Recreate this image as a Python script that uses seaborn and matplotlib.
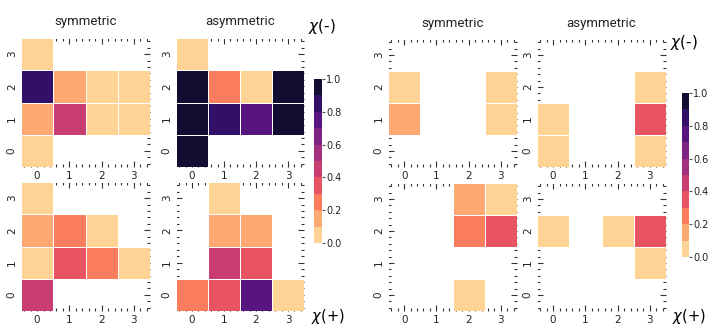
import numpy as np
import pandas as pd
import matplotlib
matplotlib.use("Agg")
import matplotlib.pyplot as plt
from matplotlib.ticker import AutoMinorLocator, FixedLocator, FormatStrFormatter
import seaborn as sns

nan = np.nan
idx = [0, 1, 2, 3]           # tick labels (x and y)
col_titles = ["symmetric", "asymmetric"]
row_labels = [r"$\chi$(-)", r"$\chi(+)$"]
cbar_ticks = [0.0, 0.2, 0.4, 0.6, 0.8, 1.0]

# rows listed y=0 (bottom) .. y=3 (top); columns x=0..3
left_sym_minus = [[0.05, nan, nan, nan],
                  [0.15, 0.45, 0.05, 0.05],
                  [0.85, 0.15, 0.05, 0.05],
                  [0.05, nan, nan, nan]]
left_asym_minus = [[0.98, nan, nan, nan],
                   [0.98, 0.85, 0.75, 0.98],
                   [0.98, 0.25, 0.05, 0.98],
                   [0.05, nan, nan, nan]]
left_sym_plus = [[0.45, nan, nan, nan],
                 [0.05, 0.35, 0.25, 0.05],
                 [0.15, 0.25, 0.05, nan],
                 [0.05, nan, nan, nan]]
left_asym_plus = [[0.25, 0.35, 0.75, 0.05],
                  [nan, 0.45, 0.35, nan],
                  [nan, 0.15, 0.15, nan],
                  [nan, 0.05, nan, nan]]

right_sym_minus = [[nan, nan, nan, nan],
                   [0.15, nan, nan, 0.05],
                   [0.05, nan, nan, 0.05],
                   [nan, nan, nan, nan]]
right_asym_minus = [[0.05, nan, nan, 0.05],
                    [0.05, nan, nan, 0.35],
                    [nan, nan, nan, 0.05],
                    [nan, nan, nan, nan]]
right_sym_plus = [[nan, nan, 0.05, nan],
                  [nan, nan, nan, nan],
                  [nan, nan, 0.25, 0.35],
                  [nan, nan, 0.15, 0.05]]
right_asym_plus = [[nan, nan, nan, nan],
                   [nan, nan, nan, 0.05],
                   [0.05, nan, 0.05, 0.35],
                   [nan, nan, nan, nan]]

plt.rcParams["axes.axisbelow"] = True
plt.rcParams["font.family"] = ["DejaVu Sans"]

W, H = 709, 325
fig = plt.figure(figsize=(W / 100, H / 100), dpi=100)


def box(x0, y0, x1, y1):
    return fig.add_axes([x0 / W, 1 - y1 / H, (x1 - x0) / W, (y1 - y0) / H])


pal = sns.color_palette("magma_r", 10)


def draw(ax, mat, cax=None):
    df = pd.DataFrame(np.array(mat, dtype=float), index=idx, columns=idx)
    sns.heatmap(df, ax=ax, cmap=pal, vmin=0, vmax=1, linewidths=0.4,
                linecolor="white", cbar=cax is not None, cbar_ax=cax,
                xticklabels=idx, yticklabels=idx)
    ax.invert_yaxis()
    ax.set_xlabel("")
    ax.set_ylabel("")
    ax.xaxis.set_minor_locator(AutoMinorLocator(5))
    ax.yaxis.set_minor_locator(AutoMinorLocator(5))
    ax.tick_params(which="both", direction="in", top=True, right=True,
                   bottom=True, left=True, color="#333333", width=0.8)
    ax.tick_params(which="major", length=4, labelsize=7.5, pad=3,
                   labelcolor="#222222")
    ax.tick_params(which="minor", length=2.2)
    for t in ax.get_yticklabels():
        t.set_rotation(90)
        t.set_va("center")
    for t in ax.get_xticklabels():
        t.set_rotation(0)
    if cax is not None:
        cax.yaxis.set_major_locator(FixedLocator(cbar_ticks))
        cax.yaxis.set_major_formatter(FormatStrFormatter("%.1f"))
        cax.tick_params(labelsize=7, length=2, width=0.8, pad=1,
                        labelcolor="#222222", color="#555555")


# left group
axA = box(21, 38, 150, 167)
axB = box(176, 38, 304, 167)
axC = box(21, 182, 150, 311)
axD = box(176, 182, 304, 311)
caxL = box(314, 79, 322, 243)
draw(axA, left_sym_minus)
draw(axB, left_asym_minus, caxL)
draw(axC, left_sym_plus)
draw(axD, left_asym_plus)

# right group
axE = box(388, 39, 517, 167)
axF = box(537, 39, 666, 167)
axG = box(388, 183, 517, 311)
axH = box(537, 183, 666, 311)
caxR = box(682, 93, 689, 257)
draw(axE, right_sym_minus)
draw(axF, right_asym_minus, caxR)
draw(axG, right_sym_plus)
draw(axH, right_asym_plus)

tfont = dict(family=["Roboto", "DejaVu Sans"], fontsize=9.5, color="#222222")
for ax, t in [(axA, col_titles[0]), (axB, col_titles[1]),
              (axE, col_titles[0]), (axF, col_titles[1])]:
    ax.set_title(t, pad=9, **tfont)

fig.text(322 / W, 1 - 26 / H, row_labels[0], ha="center", va="center", fontsize=11)
fig.text(684 / W, 1 - 42 / H, row_labels[0], ha="center", va="center", fontsize=11)
fig.text(328 / W, 1 - 316 / H, row_labels[1], ha="center", va="center", fontsize=10.5)
fig.text(689 / W, 1 - 316 / H, row_labels[1], ha="center", va="center", fontsize=10.5)

fig.savefig("out.png", dpi=100)
